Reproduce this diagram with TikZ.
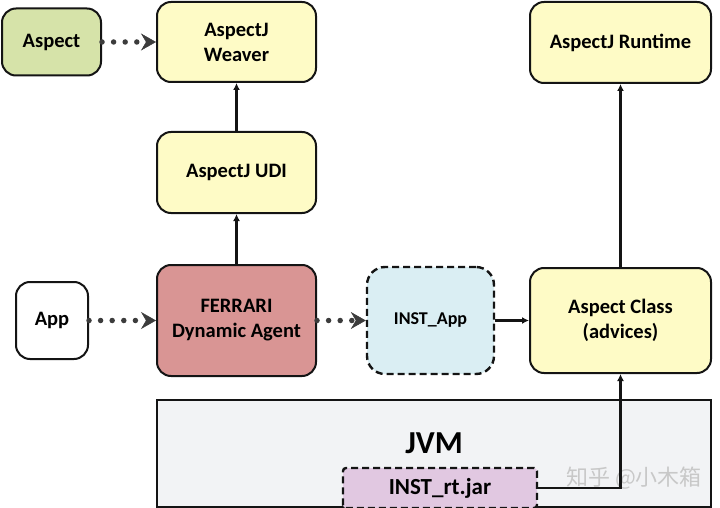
\documentclass[tikz,border=0pt]{standalone}
\usepackage{fontspec}
\setmainfont{Carlito}
\newfontfamily\cjkfont{Noto Sans CJK SC}
\usetikzlibrary{arrows.meta, positioning}
\definecolor{agreen}{HTML}{D6E3A9}
\definecolor{ayellow}{HTML}{FEFBC6}
\definecolor{ared}{HTML}{D99594}
\definecolor{ablue}{HTML}{DAEEF3}
\definecolor{agray}{HTML}{F2F3F5}
\definecolor{apurple}{HTML}{E1C8E1}
\definecolor{boxline}{HTML}{141414}
\definecolor{dotgray}{HTML}{3C3C3C}
\definecolor{markgray}{HTML}{C8C8C8}

\tikzset{
  box/.style={draw=boxline, line width=2pt, rounded corners=14pt, align=center,
    inner sep=0pt, font=\fontsize{20.5}{25}\selectfont\bfseries},
  dashbox/.style={box, line width=2.4pt, dash pattern=on 7pt off 4pt},
  dotarrow/.style={draw=dotgray, line width=5.5pt, line cap=round, dash pattern=on 0pt off 11.6pt,
    -{Stealth[length=15pt, width=17pt, inset=5pt, line width=0.5pt]}},
  solidarrow/.style={draw=boxline, line width=2.4pt, -{Latex[length=7pt, width=7pt]}},
}

\begin{document}
\begin{tikzpicture}[x=1pt, y=-1pt]
  \useasboundingbox (0,0) rectangle (720,508);

  % top row
  \node[box, fill=agreen, minimum width=99pt, minimum height=67pt] (aspect) at (51.5,42) {Aspect};
  \node[box, fill=ayellow, minimum width=159pt, minimum height=80pt] (weaver) at (236.5,42) {AspectJ\\Weaver};
  \node[box, fill=ayellow, minimum width=181pt, minimum height=81pt] (runtime) at (620.5,42.5) {AspectJ Runtime};
  \node[box, fill=ayellow, minimum width=159pt, minimum height=81pt] (udi) at (236.5,172.5) {AspectJ UDI};

  % middle row
  \node[box, fill=white, minimum width=72pt, minimum height=77pt] (app) at (52,320.5) {App};
  \node[box, fill=ared, minimum width=159pt, minimum height=111pt] (agent) at (236.5,320.5) {FERRARI\\Dynamic Agent};
  \node[dashbox, fill=ablue, rounded corners=18pt, minimum width=127pt, minimum height=107pt,
    font=\fontsize{18}{22}\selectfont\bfseries] (instapp) at (430.5,320.5) {INST\_App};
  \node[box, fill=ayellow, minimum width=181pt, minimum height=105pt] (aclass) at (620.5,320.5) {Aspect Class\\(advices)};

  % JVM
  \node[draw=boxline, line width=2pt, fill=agray, minimum width=554pt, minimum height=107pt] (jvm) at (434,453.5) {};
  \node[font=\fontsize{32}{36}\selectfont\bfseries] (jvmlabel) at (434,443) {JVM};
  \node[dashbox, fill=apurple, rounded corners=3pt, minimum width=194pt, minimum height=40pt,
    font=\fontsize{23}{26}\selectfont\bfseries] (instrt) at (440,488) {INST\_rt.jar};
  \node[font=\fontsize{22}{24}\cjkfont, text=markgray] (mark) at (634,478) {知乎 @小木箱};

  % connectors
  \draw[dotarrow] (aspect) -- (weaver);
  \draw[dotarrow] (app) -- (agent);
  \draw[dotarrow] (agent) -- (instapp);
  \draw[solidarrow] (udi) -- (weaver);
  \draw[solidarrow] (agent) -- (udi);
  \draw[solidarrow] (instapp) -- (aclass);
  \draw[solidarrow] (aclass) -- (runtime);
  \draw[solidarrow] (instrt.east) -| (aclass.south);
\end{tikzpicture}
\end{document}
